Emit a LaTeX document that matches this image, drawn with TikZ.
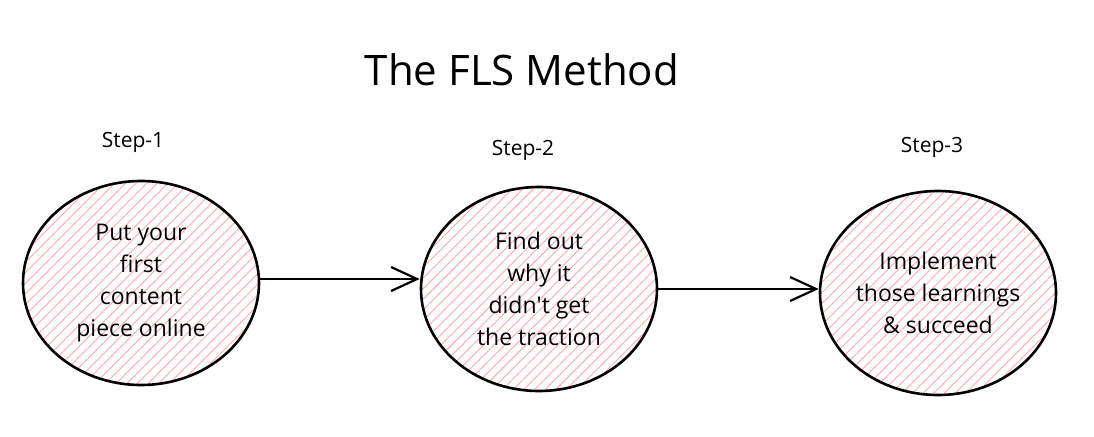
\documentclass[tikz,border=0pt]{standalone}
\usepackage{fontspec}
\setmainfont{Open Sans}
\usetikzlibrary{shapes.geometric,patterns.meta,arrows.meta}
\definecolor{hatch}{RGB}{255,168,168}
\tikzset{
  stepcircle/.style={ellipse, draw=black, line width=2.6pt,
    pattern={Lines[angle=45,distance=7.5pt,line width=0.9pt]}, pattern color=hatch,
    minimum width=236pt, minimum height=204pt, inner sep=0pt,
    align=center, font=\fontsize{23}{32}\selectfont},
  steplabel/.style={font=\fontsize{21}{24}\selectfont},
  flowarrow/.style={line width=2.6pt, -{Straight Barb[length=26pt,width=24pt,line width=2.2pt]}},
}
\begin{document}
\begin{tikzpicture}[x=1pt,y=-1pt]
\useasboundingbox (0,0) rectangle (1094,436);
\node[font=\fontsize{42}{46}\selectfont] (title) at (522,70) {The FLS Method};
\node[steplabel] (s1) at (133,142) {Step-1};
\node[steplabel] (s2) at (523,150) {Step-2};
\node[steplabel] (s3) at (932,147) {Step-3};
\node[stepcircle] (c1) at (141,283) {Put your\\first\\content\\piece online};
\node[stepcircle] (c2) at (539,289) {Find out\\why it\\didn\textquotesingle t get\\the traction};
\node[stepcircle] (c3) at (938,293) {Implement\\those learnings\\\& succeed};
\draw[flowarrow] ([yshift=4pt]c1.east) -- ([yshift=4pt]c1.east -| c2.west);
\draw[flowarrow] (c2.east) -- (c2.east -| c3.west);
\end{tikzpicture}
\end{document}
